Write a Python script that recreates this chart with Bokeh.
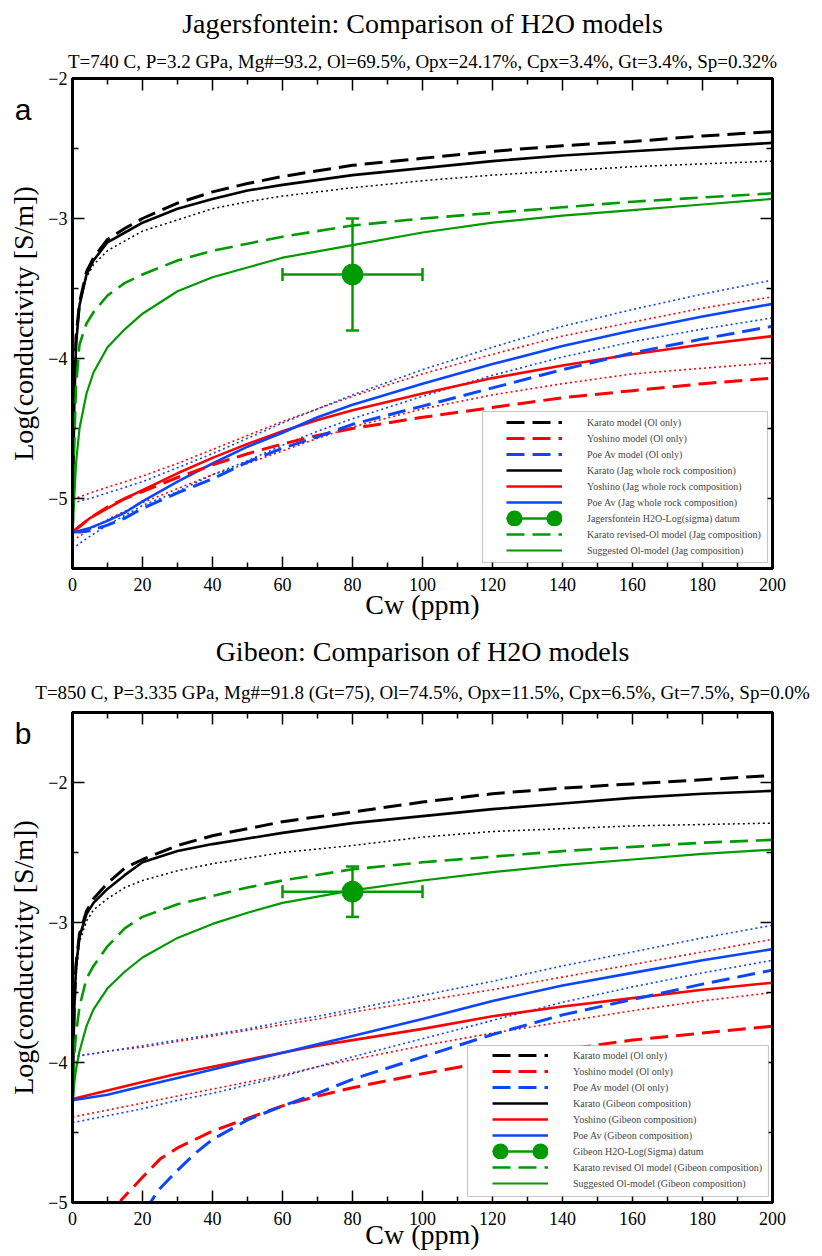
import math
from bokeh.plotting import figure
from bokeh.models import (BoxAnnotation, Legend, LegendItem, LinearAxis, Title,
                          Range1d, FixedTicker)
from bokeh.layouts import column
from bokeh.embed import file_html
from bokeh.resources import INLINE

# ---------------- data: panel a (Jagersfontein) ----------------
A_TITLE = "Jagersfontein: Comparison of H2O models"
A_SUB = "T=740 C, P=3.2 GPa, Mg#=93.2, Ol=69.5%, Opx=24.17%, Cpx=3.4%, Gt=3.4%, Sp=0.32%"
A_X_UP = [0, 0.5, 1, 2, 4, 6, 10, 15, 20, 30, 40, 50, 60, 80, 100, 120, 140, 160, 180, 200]
A_KARATO_OL = [-5.25, -4.3, -3.85, -3.6, -3.38, -3.28, -3.15, -3.07, -3.0, -2.89, -2.81, -2.75, -2.70, -2.62, -2.57, -2.52, -2.48, -2.45, -2.41, -2.38]
A_KARATO_WR = [-5.25, -4.35, -3.9, -3.62, -3.4, -3.3, -3.17, -3.1, -3.03, -2.93, -2.86, -2.8, -2.76, -2.69, -2.64, -2.59, -2.55, -2.52, -2.49, -2.46]
A_KARATO_DOT = [-5.25, -4.35, -3.92, -3.62, -3.42, -3.33, -3.23, -3.16, -3.09, -3.01, -2.93, -2.88, -2.84, -2.78, -2.73, -2.69, -2.66, -2.63, -2.61, -2.59]
A_KARATO_REV = [-5.25, -4.6, -4.2, -3.9, -3.75, -3.67, -3.55, -3.46, -3.4, -3.3, -3.23, -3.18, -3.13, -3.05, -3.0, -2.96, -2.92, -2.88, -2.85, -2.82]
A_SUGGESTED = [-5.25, -5.0, -4.75, -4.5, -4.25, -4.1, -3.92, -3.79, -3.68, -3.52, -3.42, -3.35, -3.28, -3.19, -3.1, -3.03, -2.98, -2.94, -2.9, -2.86]

A_X_LOW = [0, 2, 5, 10, 15, 20, 30, 40, 50, 60, 70, 80, 100, 120, 140, 160, 180, 200]
A_YOSH_WR = [-5.24, -5.2, -5.14, -5.07, -5.0, -4.94, -4.82, -4.71, -4.61, -4.52, -4.44, -4.37, -4.25, -4.14, -4.05, -3.97, -3.9, -3.84]
A_POE_WR = [-5.24, -5.23, -5.21, -5.16, -5.1, -5.02, -4.88, -4.75, -4.63, -4.53, -4.42, -4.33, -4.18, -4.04, -3.91, -3.8, -3.7, -3.61]
A_YOSH_OL = [-5.24, -5.2, -5.14, -5.06, -5.0, -4.95, -4.85, -4.76, -4.68, -4.61, -4.55, -4.5, -4.42, -4.35, -4.28, -4.23, -4.18, -4.14]
A_POE_OL = [-5.24, -5.24, -5.23, -5.19, -5.14, -5.07, -4.96, -4.86, -4.74, -4.64, -4.56, -4.47, -4.34, -4.21, -4.08, -3.96, -3.86, -3.77]
A_YOSH_DOT_HI = [-5.0, -4.99, -4.96, -4.92, -4.88, -4.84, -4.75, -4.65, -4.55, -4.45, -4.36, -4.27, -4.11, -3.97, -3.84, -3.74, -3.64, -3.56]
A_POE_DOT_HI = [-5.03, -5.02, -5.0, -4.96, -4.92, -4.88, -4.78, -4.68, -4.57, -4.46, -4.36, -4.26, -4.08, -3.92, -3.77, -3.65, -3.54, -3.44]
A_YOSH_DOT_LO = [-5.3, -5.27, -5.22, -5.15, -5.09, -5.03, -4.93, -4.83, -4.75, -4.66, -4.57, -4.49, -4.36, -4.26, -4.18, -4.11, -4.07, -4.03]
A_POE_DOT_LO = [-5.36, -5.32, -5.27, -5.19, -5.12, -5.05, -4.95, -4.83, -4.73, -4.62, -4.52, -4.43, -4.27, -4.12, -3.99, -3.88, -3.79, -3.71]
A_DATUM_X = [80]
A_DATUM_Y = [-3.4]
A_DATUM_XERR = [20]
A_DATUM_YERR = [0.4]
A_LABELS = ["Karato model (Ol only)", "Yoshino model (Ol only)", "Poe Av model (Ol only)",
            "Karato (Jag whole rock composition)", "Yoshino (Jag whole rock composition)",
            "Poe Av (Jag whole rock composition)", "Jagersfontein H2O-Log(sigma) datum",
            "Karato revised-Ol model (Jag composition)", "Suggested Ol-model (Jag composition)"]

# ---------------- data: panel b (Gibeon) ----------------
B_TITLE = "Gibeon: Comparison of H2O models"
B_SUB = "T=850 C, P=3.335 GPa, Mg#=91.8 (Gt=75), Ol=74.5%, Opx=11.5%, Cpx=6.5%, Gt=7.5%, Sp=0.0%"
B_X_UP = [0, 0.5, 1, 2, 4, 6, 10, 15, 20, 30, 40, 50, 60, 80, 100, 120, 140, 160, 180, 200]
B_KARATO_OL = [-4.3, -3.6, -3.3, -3.08, -2.92, -2.83, -2.72, -2.61, -2.55, -2.45, -2.38, -2.33, -2.28, -2.21, -2.14, -2.08, -2.04, -2.01, -1.98, -1.95]
B_KARATO_WR = [-4.3, -3.62, -3.32, -3.1, -2.94, -2.86, -2.76, -2.66, -2.57, -2.49, -2.44, -2.4, -2.36, -2.29, -2.24, -2.19, -2.15, -2.11, -2.08, -2.06]
B_KARATO_DOT = [-4.3, -3.65, -3.36, -3.14, -2.99, -2.91, -2.83, -2.75, -2.7, -2.63, -2.58, -2.54, -2.5, -2.45, -2.39, -2.35, -2.33, -2.31, -2.3, -2.29]
B_KARATO_REV = [-4.3, -3.95, -3.8, -3.6, -3.4, -3.31, -3.17, -3.04, -2.96, -2.87, -2.81, -2.75, -2.7, -2.62, -2.57, -2.53, -2.49, -2.46, -2.43, -2.41]
B_SUGGESTED = [-4.3, -4.15, -4.05, -3.92, -3.74, -3.62, -3.47, -3.35, -3.25, -3.11, -3.01, -2.93, -2.86, -2.77, -2.7, -2.64, -2.59, -2.55, -2.51, -2.48]

B_X_LOW = [0, 10, 20, 30, 40, 50, 60, 70, 80, 100, 120, 140, 160, 180, 200]
B_YOSH_WR = [-4.26, -4.2, -4.14, -4.08, -4.03, -3.98, -3.93, -3.88, -3.84, -3.76, -3.67, -3.6, -3.54, -3.48, -3.43]
B_POE_WR = [-4.27, -4.23, -4.17, -4.11, -4.05, -3.99, -3.93, -3.87, -3.81, -3.69, -3.56, -3.45, -3.36, -3.27, -3.19]
B_YOSH_DOT_HI = [-3.96, -3.92, -3.89, -3.85, -3.81, -3.77, -3.73, -3.69, -3.64, -3.56, -3.48, -3.39, -3.3, -3.21, -3.12]
B_POE_DOT_HI = [-3.96, -3.92, -3.88, -3.84, -3.8, -3.76, -3.71, -3.67, -3.62, -3.52, -3.42, -3.31, -3.21, -3.11, -3.02]
B_YOSH_DOT_LO = [-4.39, -4.34, -4.29, -4.24, -4.19, -4.14, -4.09, -4.03, -3.98, -3.88, -3.79, -3.71, -3.63, -3.56, -3.5]
B_POE_DOT_LO = [-4.43, -4.38, -4.33, -4.27, -4.22, -4.16, -4.1, -4.03, -3.96, -3.83, -3.7, -3.57, -3.46, -3.36, -3.27]
B_YOSH_OL_X = [10, 14, 20, 25, 30, 40, 50, 60, 70, 80, 100, 120, 140, 160, 180, 200]
B_YOSH_OL = [-5.2, -4.98, -4.82, -4.69, -4.61, -4.49, -4.4, -4.31, -4.24, -4.18, -4.08, -3.99, -3.91, -3.84, -3.79, -3.74]
B_POE_OL_X = [15, 20, 25, 30, 35, 40, 50, 60, 70, 80, 100, 120, 140, 160, 180, 200]
B_POE_OL = [-5.4, -5.08, -4.9, -4.77, -4.65, -4.55, -4.41, -4.31, -4.22, -4.12, -3.96, -3.8, -3.66, -3.55, -3.44, -3.34]
B_DATUM_X = [80]
B_DATUM_Y = [-2.78]
B_DATUM_XERR = [20]
B_DATUM_YERR = [0.18]
B_LABELS = ["Karato model (Ol only)", "Yoshino model (Ol only)", "Poe Av model (Ol only)",
            "Karato (Gibeon composition)", "Yoshino (Gibeon composition)",
            "Poe Av (Gibeon composition)", "Gibeon H2O-Log(Sigma) datum",
            "Karato revised Ol model (Gibeon composition)", "Suggested Ol-model (Gibeon composition)"]

X_MAJOR = [0, 20, 40, 60, 80, 100, 120, 140, 160, 180, 200]
X_MINOR = [10, 30, 50, 70, 90, 110, 130, 150, 170, 190]

# ---------------- style ----------------
SERIF = "Liberation Serif"
SANS = "Liberation Sans"
BLACK = "#000000"
RED = "#ff0000"
BLUE = "#0a46ff"
GREEN = "#009a00"
DASH = "18 8"
DOT = "2 3"


def style_axis(ax, show_labels=True):
    ax.axis_line_width = 3
    ax.axis_line_color = "black"
    ax.major_tick_in = 12
    ax.major_tick_out = 0
    ax.minor_tick_in = 6
    ax.minor_tick_out = 0
    ax.major_tick_line_width = 1.5
    ax.minor_tick_line_width = 1.5
    ax.major_label_text_font = SERIF
    ax.major_label_text_font_size = "18px" if show_labels else "0px"
    ax.major_label_text_color = "black"
    ax.major_label_standoff = 5 if show_labels else 0
    ax.axis_label_text_font = SERIF
    ax.axis_label_text_font_style = "normal"
    ax.axis_label_text_color = "black"


def make_panel(d, top_border, bottom_border):
    p = figure(frame_width=700, frame_height=490, min_border_left=72, min_border_right=42,
               min_border_top=top_border, min_border_bottom=bottom_border,
               x_range=Range1d(0, 200), y_range=Range1d(*d["yr"]),
               output_backend="svg", toolbar_location=None, title=None)
    p.xgrid.visible = False
    p.ygrid.visible = False
    p.outline_line_color = "black"
    p.outline_line_width = 3
    yt_major = d["ymajor"]
    yt_minor = d["yminor"]
    p.xaxis.ticker = FixedTicker(ticks=X_MAJOR, minor_ticks=X_MINOR)
    p.yaxis.ticker = FixedTicker(ticks=yt_major, minor_ticks=yt_minor)
    for ax in p.xaxis + p.yaxis:
        style_axis(ax)
    p.xaxis.major_label_standoff = 9
    p.yaxis.axis_label = "Log(conductivity [S/m])"
    p.yaxis.axis_label_text_font_size = "28px"
    p.yaxis.axis_label_standoff = 6
    p.xaxis.axis_label = "Cw (ppm)"
    p.xaxis.axis_label_text_font_size = "28px"
    p.xaxis.axis_label_standoff = d["xls"]
    top_ax = LinearAxis(ticker=FixedTicker(ticks=X_MAJOR, minor_ticks=X_MINOR))
    right_ax = LinearAxis(ticker=FixedTicker(ticks=yt_major, minor_ticks=yt_minor))
    style_axis(top_ax, False)
    style_axis(right_ax, False)
    p.add_layout(top_ax, "above")
    p.add_layout(right_ax, "right")

    # panel letter drawn as the single label of an extra, line-less left axis
    lv = d["letter_at"]
    let_ax = LinearAxis(ticker=FixedTicker(ticks=[lv], minor_ticks=[]),
                        major_label_overrides={lv: d["letter"]})
    let_ax.axis_line_alpha = 0
    let_ax.major_tick_in = 0
    let_ax.major_tick_out = 0
    let_ax.minor_tick_in = 0
    let_ax.minor_tick_out = 0
    let_ax.major_label_text_font = SANS
    let_ax.major_label_text_font_size = "30px"
    let_ax.major_label_text_color = "black"
    let_ax.major_label_standoff = -26
    p.add_layout(let_ax, "left")

    # titles
    p.add_layout(Title(text=d["sub"], text_font=SERIF, text_font_size="19px", text_color="black",
                       text_font_style="normal", align="center", standoff=d["s1"]), "above")
    p.add_layout(Title(text=d["title"], text_font=SERIF, text_font_size="28px", text_color="black",
                       text_font_style="normal", align="center", standoff=d["s2"]), "above")

    # dotted (unlabelled) curves
    p.line(d["xup"], d["kdot"], line_color=BLACK, line_width=1.5, line_dash=DOT)
    p.line(d["xlow"], d["ydot_hi"], line_color=RED, line_width=1.6, line_dash=DOT)
    p.line(d["xlow"], d["pdot_hi"], line_color=BLUE, line_width=1.6, line_dash=DOT)
    p.line(d["xlow"], d["ydot_lo"], line_color=RED, line_width=1.6, line_dash=DOT)
    p.line(d["xlow"], d["pdot_lo"], line_color=BLUE, line_width=1.6, line_dash=DOT)

    r_yw = p.line(d["xlow"], d["yw"], line_color=RED, line_width=2.6)
    r_pw = p.line(d["xlow"], d["pw"], line_color=BLUE, line_width=2.6)
    r_yo = p.line(d["yox"], d["yo"], line_color=RED, line_width=3, line_dash=DASH)
    r_po = p.line(d["pox"], d["po"], line_color=BLUE, line_width=3, line_dash=DASH)
    r_kw = p.line(d["xup"], d["kw"], line_color=BLACK, line_width=2.6)
    r_ko = p.line(d["xup"], d["ko"], line_color=BLACK, line_width=3, line_dash=DASH)
    r_kr = p.line(d["xup"], d["kr"], line_color=GREEN, line_width=2.6, line_dash=DASH)
    r_sg = p.line(d["xup"], d["sg"], line_color=GREEN, line_width=2.2)

    # datum with error bars
    dx, dy, ex, ey = d["dx"], d["dy"], d["ex"], d["ey"]
    xl = [a - e for a, e in zip(dx, ex)]
    xh = [a + e for a, e in zip(dx, ex)]
    yl = [a - e for a, e in zip(dy, ey)]
    yh = [a + e for a, e in zip(dy, ey)]
    r_bar = p.segment(x0=xl, y0=dy, x1=xh, y1=dy, line_color=GREEN, line_width=2.5)
    p.segment(x0=dx, y0=yl, x1=dx, y1=yh, line_color=GREEN, line_width=2.5)
    p.scatter(x=dx + dx, y=yl + yh, marker="dash", size=13, line_color=GREEN, line_width=2.5)
    p.scatter(x=xl + xh, y=dy + dy, marker="dash", angle=math.pi / 2, size=13,
              line_color=GREEN, line_width=2.5)
    p.scatter(x=dx, y=dy, marker="circle", size=21, fill_color=GREEN, line_color=GREEN)
    # legend sample of the datum: two round dots joined by a thin line
    r_dots = p.line(x=dx, y=dy, line_color=GREEN, line_width=16, line_cap="round",
                    line_dash="0 40", line_dash_offset=-8)

    # legend box + legend
    box = BoxAnnotation(left=d["box"][0], right=d["box"][1], top=d["box"][2], bottom=d["box"][3],
                        left_units="screen", right_units="screen", top_units="screen",
                        bottom_units="screen", fill_color="white", fill_alpha=1.0,
                        line_color="#444444", line_width=1.2)
    p.add_layout(box)
    rends = [[r_ko], [r_yo], [r_po], [r_kw], [r_yw], [r_pw], [r_bar, r_dots], [r_kr], [r_sg]]
    items = [LegendItem(label=lab, renderers=rr) for lab, rr in zip(d["labels"], rends)]
    leg = Legend(items=items, location=d["legloc"], glyph_width=56, glyph_height=16,
                 label_height=16, spacing=0, padding=0, margin=0, label_standoff=25,
                 border_line_alpha=0, background_fill_alpha=0,
                 label_text_font=SERIF, label_text_font_size="10px")
    p.add_layout(leg)
    return p


pa = make_panel(dict(yr=(-5.5, -2), ymajor=[-5, -4, -3, -2], yminor=[-5.5, -4.5, -3.5, -2.5],
                     xup=A_X_UP, xlow=A_X_LOW, kdot=A_KARATO_DOT, ydot_hi=A_YOSH_DOT_HI,
                     pdot_hi=A_POE_DOT_HI, ydot_lo=A_YOSH_DOT_LO, pdot_lo=A_POE_DOT_LO,
                     yw=A_YOSH_WR, pw=A_POE_WR, yox=A_X_LOW, yo=A_YOSH_OL, pox=A_X_LOW, po=A_POE_OL,
                     kw=A_KARATO_WR, ko=A_KARATO_OL, kr=A_KARATO_REV, sg=A_SUGGESTED,
                     dx=A_DATUM_X, dy=A_DATUM_Y, ex=A_DATUM_XERR, ey=A_DATUM_YERR,
                     box=(410, 695, 157, 6), legloc=(434, 10), labels=A_LABELS,
                     title=A_TITLE, sub=A_SUB, letter="a", letter_at=-2.22,
                     s1=14, s2=6, xls=-5),
                78, 60)

pb = make_panel(dict(yr=(-5, -1.5), ymajor=[-5, -4, -3, -2], yminor=[-4.5, -3.5, -2.5, -1.5],
                     xup=B_X_UP, xlow=B_X_LOW, kdot=B_KARATO_DOT, ydot_hi=B_YOSH_DOT_HI,
                     pdot_hi=B_POE_DOT_HI, ydot_lo=B_YOSH_DOT_LO, pdot_lo=B_POE_DOT_LO,
                     yw=B_YOSH_WR, pw=B_POE_WR, yox=B_YOSH_OL_X, yo=B_YOSH_OL, pox=B_POE_OL_X, po=B_POE_OL,
                     kw=B_KARATO_WR, ko=B_KARATO_OL, kr=B_KARATO_REV, sg=B_SUGGESTED,
                     dx=B_DATUM_X, dy=B_DATUM_Y, ex=B_DATUM_XERR, ey=B_DATUM_YERR,
                     box=(395, 696, 157, 6), legloc=(420, 11), labels=B_LABELS,
                     title=B_TITLE, sub=B_SUB, letter="b", letter_at=-1.65,
                     s1=19, s2=7, xls=-9),
                84, 52)

layout = column(pa, pb, spacing=0)
open("out.html", "w").write(file_html(layout, INLINE))
